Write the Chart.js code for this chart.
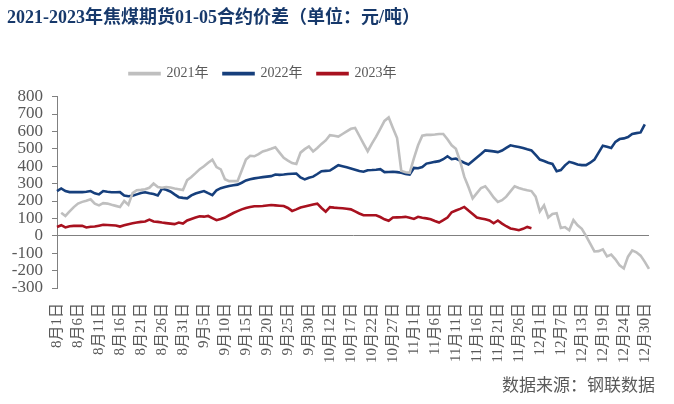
<!DOCTYPE html>
<html>
<head>
<meta charset="utf-8">
<script src="https://cdn.jsdelivr.net/npm/chart.js@4.4.0/dist/chart.umd.min.js"></script>
<style>
  html, body { margin: 0; padding: 0; background: #fff; }
  #wrap { position: relative; width: 674px; height: 404px; }
  #source { position: absolute; right: 19px; top: 371px; font: 17px "Liberation Serif", "Noto Sans CJK SC", serif; color: #595959; }
</style>
</head>
<body>
<div id="wrap">
  <canvas id="spreadChart" width="674" height="404"></canvas>
  <div id="source">数据来源：钢联数据</div>
</div>
<script>
// trading-day categories, Aug 1 -> Dec 31 (national-day holiday skipped)
const dayRanges = [[8, 1, 31], [9, 1, 30], [10, 8, 31], [11, 1, 30]];
const decDays = [1, 2, 3, 4, 6, 7, 8, 9, 10, 12, 13, 14, 15, 16, 17, 19, 20, 21, 22, 23, 24, 26, 27, 28, 29, 30, 31];
const categories = [];
dayRanges.forEach(([m, a, b]) => { for (let d = a; d <= b; d++) categories.push(m + '月' + d + '日'); });
decDays.forEach(d => categories.push('12月' + d + '日'));

const yTicks = { min: -300, max: 800, step: 100 };

const s2021 = [null, 133, 114, 140, 165, 185, 195, 202, 210, 185, 175, 188, 185, 178, 172, 166, 200, 178, 245, 262,
  264, 267, 276, 300, 280, 276, 280, 278, 272, 268, 263, 320, 338, 360, 383, 400, 420, 438, 395, 382,
  325, 314, 314, 314, 375, 438, 460, 457, 470, 485, 492, 500, 509, 478, 448, 432, 418, 413, 478, 498,
  514, 485, 505, 528, 548, 578, 575, 570, 585, 600, 615, 620, 575, 530, 486, 530, 570, 615, 660, 680,
  620, 562, 373, 365, 362, 445, 520, 575, 580, 580, 582, 585, 585, 555, 520, 500, 430, 340, 280, 215,
  245, 275, 285, 255, 220, 195, 205, 225, 255, 285, 275, 268, 262, 257, 225, 140, 175, 105, 125, 130,
  45, 50, 32, 90, 60, 40, 0, -45, -90, -88, -78, -118, -108, -135, -170, -188, -120, -84, -95, -114,
  -150, -190];
const s2022 = [257, 272, 257, 251, 251, 251, 251, 253, 257, 244, 238, 257, 253, 250, 250, 251, 232, 227, 230, 238,
  246, 250, 244, 240, 232, 270, 265, 255, 238, 222, 218, 215, 232, 243, 250, 257, 245, 234, 262, 274,
  280, 286, 290, 294, 305, 318, 325, 330, 334, 337, 340, 343, 352, 350, 352, 355, 357, 358, 335, 324,
  334, 340, 355, 371, 373, 375, 390, 406, 400, 394, 387, 380, 372, 368, 377, 378, 380, 383, 366, 367,
  368, 366, 362, 356, 352, 390, 388, 395, 415, 420, 425, 429, 440, 457, 440, 444, 432, 420, 410, 430,
  450, 470, 491, 488, 485, 481, 490, 505, 520, 515, 510, 504, 497, 491, 465, 438, 430, 420, 413, 371,
  378, 405, 425, 418, 410, 406, 406, 420, 438, 478, 518, 512, 505, 540, 556, 560, 568, 585, 590, 594,
  640, null];
const s2023 = [51, 61, 48, 55, 57, 57, 57, 48, 52, 53, 58, 63, 62, 61, 59, 53, 60, 67, 72, 76,
  80, 82, 93, 82, 80, 76, 73, 70, 67, 76, 70, 88, 97, 105, 112, 110, 114, 102, 90, 97,
  105, 118, 131, 142, 152, 160, 165, 170, 170, 171, 174, 177, 175, 173, 171, 160, 143, 152, 162, 168,
  174, 180, 185, 160, 139, 165, 162, 160, 158, 155, 152, 140, 128, 118, 118, 118, 118, 108, 95, 86,
  105, 106, 107, 109, 104, 97, 109, 104, 100, 95, 85, 76, 90, 105, 135, 145, 155, 166, 145, 125,
  105, 100, 95, 88, 72, 88, 70, 55, 42, 38, 32, 40, 51, 44];

const serif = '"Liberation Serif", "Noto Sans CJK SC", serif';
const axisGray = '#808080';
const textGray = '#595959';

function line(label, data, color) {
  return {
    label: label,
    data: data,
    borderColor: color,
    backgroundColor: color,
    borderWidth: 2.6,
    pointRadius: 0,
    tension: 0,
    spanGaps: true
  };
}

// legend sits left of centre in the original, with a bit more room under it
const legendTweak = {
  id: 'legendTweak',
  beforeInit(chart) {
    const fit = chart.legend.fit;
    chart.legend.fit = function () {
      fit.bind(chart.legend)();
      this.height += 6;
    };
  },
  afterLayout(chart) {
    chart.legend.left -= 67;
    chart.legend.right -= 67;
  }
};

new Chart(document.getElementById('spreadChart'), {
  type: 'line',
  data: {
    labels: categories,
    datasets: [
      line('2021年', s2021, '#BFBFBF'),
      line('2022年', s2022, '#163F7C'),
      line('2023年', s2023, '#A8111F')
    ]
  },
  plugins: [legendTweak],
  options: {
    responsive: false,
    animation: false,
    layout: { padding: { left: 7, right: 21, top: 0, bottom: 0 } },
    plugins: {
      title: {
        display: true,
        text: '2021-2023年焦煤期货01-05合约价差（单位：元/吨）',
        align: 'start',
        color: '#17396B',
        font: { family: serif, size: 18, weight: 'bold' },
        padding: { top: 8, bottom: 22 }
      },
      legend: {
        labels: {
          color: textGray,
          font: { family: serif, size: 14 },
          boxWidth: 30,
          boxHeight: 1,
          padding: 15
        }
      },
      tooltip: { enabled: false }
    },
    scales: {
      x: {
        border: { display: false },
        grid: { display: false },
        afterFit: s => { s.height = 116; },
        ticks: {
          autoSkip: false,
          minRotation: 90,
          maxRotation: 90,
          padding: 7,
          color: textGray,
          font: { family: serif, size: 15 },
          callback: (v, i) => (i % 5 === 0 ? categories[i] : '')
        }
      },
      y: {
        min: yTicks.min,
        max: yTicks.max,
        border: { display: true, color: axisGray, width: 1 },
        grid: {
          drawOnChartArea: true,
          color: c => (c.tick && c.tick.value === 0 ? axisGray : 'rgba(0,0,0,0)'),
          tickColor: axisGray,
          tickLength: 5
        },
        afterFit: s => { s.width = 50; },
        ticks: {
          autoSkip: false,
          stepSize: yTicks.step,
          padding: 9,
          color: textGray,
          font: { family: serif, size: 17 }
        }
      }
    }
  }
});
</script>
</body>
</html>
